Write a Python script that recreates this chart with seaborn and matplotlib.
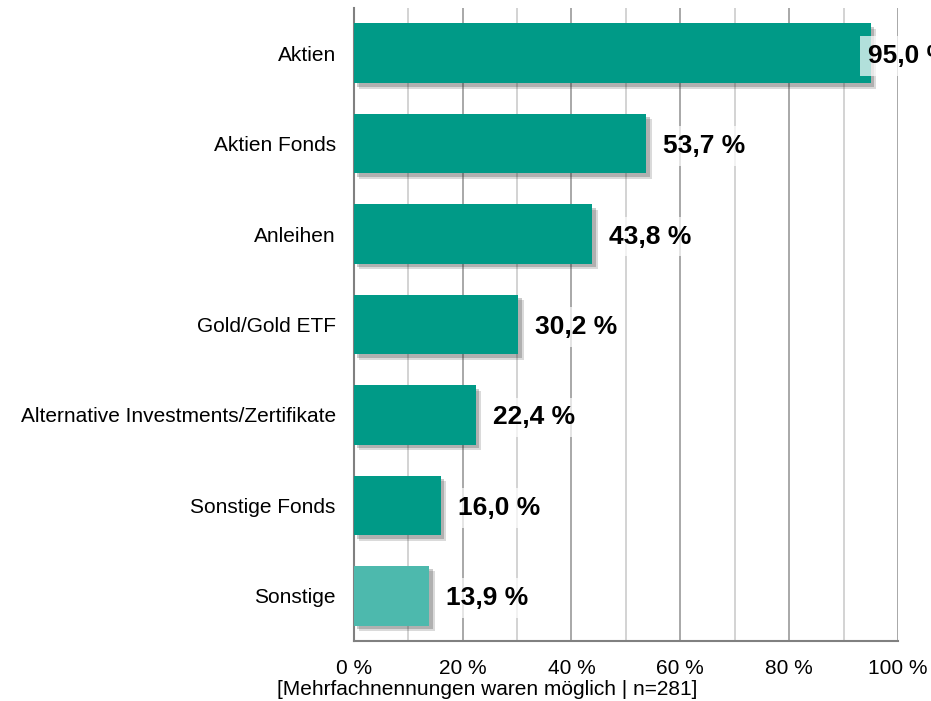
import matplotlib
matplotlib.use("Agg")
import matplotlib.pyplot as plt
import matplotlib.patheffects as pe
from matplotlib.ticker import MultipleLocator, FuncFormatter
import pandas as pd
import seaborn as sns

# Data
categories = ["Aktien", "Aktien Fonds", "Anleihen", "Gold/Gold ETF",
              "Alternative Investments/Zertifikate", "Sonstige Fonds", "Sonstige"]
values = [95.0, 53.7, 43.8, 30.2, 22.4, 16.0, 13.9]
bar_colors = ["#009A87"] * 6 + ["#4DB9AD"]

df = pd.DataFrame({"kategorie": categories, "anteil": values})

sns.set_theme(style="white")
plt.rcParams["font.family"] = ["Liberation Sans", "DejaVu Sans"]

fig, ax = plt.subplots(figsize=(9.31, 7.01), dpi=100)
fig.subplots_adjust(left=0.380, right=0.9646, top=0.9886, bottom=0.0856)

sns.barplot(data=df, x="anteil", y="kategorie", hue="kategorie",
            palette=bar_colors, legend=False, width=0.66, saturation=1,
            linewidth=0, ax=ax, zorder=3)

# weiche Schatten
for bar in ax.patches:
    bar.set_path_effects([pe.SimplePatchShadow(offset=(4, -4), alpha=0.18, shadow_rgbFace="#333333"),
                          pe.SimplePatchShadow(offset=(2.5, -2.5), alpha=0.25, shadow_rgbFace="#333333"),
                          pe.Normal()])

# value labels
for i, v in enumerate(values):
    x = min(v + 3.1, 94.4)
    ax.text(x, i, f"{v:.1f} %".replace(".", ","), va="center_baseline", ha="left",
            fontsize=19, fontweight="bold", color="black", zorder=5,
            bbox=dict(boxstyle="square,pad=0.3", fc="white", ec="none", alpha=0.7),
            clip_on=False)

ax.set_xlim(0, 100)
ax.set_ylim(6.5, -0.5)
ax.xaxis.set_major_locator(MultipleLocator(20))
ax.xaxis.set_minor_locator(MultipleLocator(10))
ax.xaxis.set_major_formatter(FuncFormatter(lambda x, p: f"{x:.0f} %"))
ax.grid(axis="x", which="major", color="#9a9a9a", linewidth=1.2, zorder=0)
ax.grid(axis="x", which="minor", color="#cccccc", linewidth=1.2, zorder=0)
ax.set_axisbelow(True)

for s in ["top", "right"]:
    ax.spines[s].set_visible(False)
for s in ["left", "bottom"]:
    ax.spines[s].set_color("#808080")
    ax.spines[s].set_linewidth(1.5)

ax.tick_params(axis="x", labelsize=15, pad=13, length=0, labelcolor="black")
ax.tick_params(axis="y", labelsize=15, pad=13, length=0, labelcolor="black")
ax.set_xlabel("")
ax.set_ylabel("")

fig.text(0.523, 0.003, "[Mehrfachnennungen waren möglich | n=281]",
         ha="center", va="bottom", fontsize=15, color="black")

fig.savefig("out.png", dpi=100)
